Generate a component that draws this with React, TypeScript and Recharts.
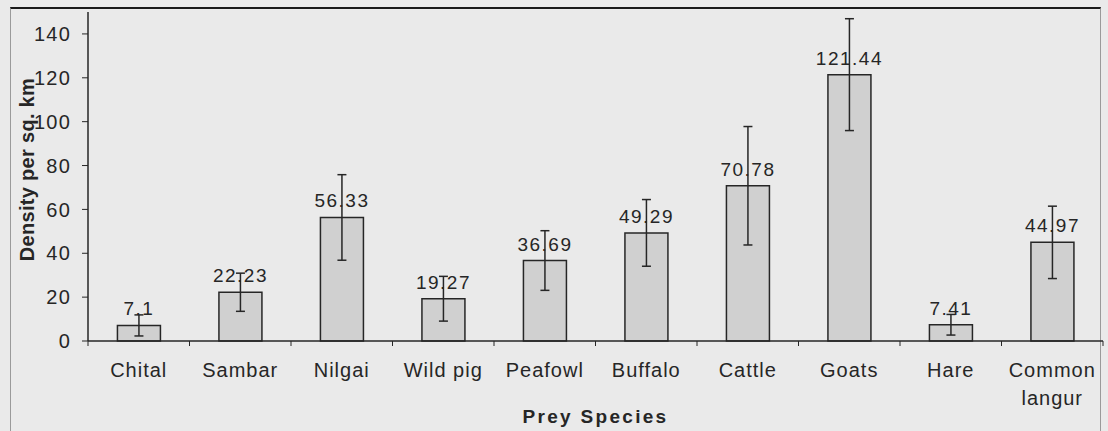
import React from 'react';
import { BarChart, Bar, XAxis, YAxis, ErrorBar, LabelList } from 'recharts';

const CATEGORIES = ['Chital', 'Sambar', 'Nilgai', 'Wild pig', 'Peafowl', 'Buffalo', 'Cattle', 'Goats', 'Hare', 'Common langur'];
const DENSITY = [7.1, 22.23, 56.33, 19.27, 36.69, 49.29, 70.78, 121.44, 7.41, 44.97];
const ERRORS = [4.8, 8.7, 19.5, 10.2, 13.6, 15.2, 27.0, 25.5, 4.7, 16.5];
const Y_TICKS = [0, 20, 40, 60, 80, 100, 120, 140];

const FONT = '"Liberation Sans", Arial, sans-serif';
const INK = '#262626';

const chartData = CATEGORIES.map((name, i) => ({
  name,
  value: DENSITY[i],
  err: ERRORS[i],
}));

const CategoryTick = (props: any) => {
  const { x, y, payload, index, width } = props;
  const half = payload.offset ?? width / CATEGORIES.length / 2;
  const label: string = payload.value;
  const lines = label.length > 10 ? label.split(' ') : [label];
  return (
    <g>
      <line x1={x - half} y1={y} x2={x - half} y2={y + 5} stroke={INK} strokeWidth={1} />
      {index === CATEGORIES.length - 1 && (
        <line x1={x + half} y1={y} x2={x + half} y2={y + 5} stroke={INK} strokeWidth={1} />
      )}
      {lines.map((l, k) => (
        <text
          key={k}
          x={x}
          y={y + 36 + k * 28}
          textAnchor="middle"
          fontSize={20}
          letterSpacing={1}
          fill={INK}
          fontFamily={FONT}
        >
          {l}
        </text>
      ))}
    </g>
  );
};

// rotated axis title, centred a little above the middle of the plot
const YTitle = (props: any) => {
  const { viewBox } = props;
  const cy = viewBox.y + viewBox.height / 2 - 7;
  return (
    <text
      x={34}
      y={cy}
      transform={`rotate(-90, 34, ${cy})`}
      textAnchor="middle"
      fontSize={20}
      fontWeight="bold"
      letterSpacing={0.3}
      fill={INK}
      fontFamily={FONT}
    >
      Density per sq. km
    </text>
  );
};

const App: React.FC = () => {
  return (
    <div style={{ position: 'absolute', left: 0, top: 0, width: 1108, height: 431, background: '#eaeaea' }}>
      <div
        style={{
          position: 'absolute',
          left: 10,
          top: 7,
          width: 1091,
          height: 424,
          borderTop: '2px solid #1a1a1a',
          borderLeft: '1px solid #9a9a9a',
          borderRight: '1px solid #9a9a9a',
          boxSizing: 'border-box',
        }}
      />
      <div style={{ position: 'absolute', left: 0, top: 0 }}>
        <BarChart
          width={1108}
          height={431}
          data={chartData}
          margin={{ top: 12, right: 5, left: 0, bottom: 0 }}
          barCategoryGap="29%"
        >
          <XAxis
            dataKey="name"
            height={90}
            interval={0}
            tickLine={false}
            tickSize={0}
            tickMargin={0}
            axisLine={{ stroke: INK, strokeWidth: 1.5 }}
            tick={<CategoryTick />}
            label={{
              value: 'Prey Species',
              position: 'insideBottom',
              offset: 8,
              fill: INK,
              fontSize: 19,
              fontWeight: 'bold',
              fontFamily: FONT,
              letterSpacing: 2.3,
            }}
          />
          <YAxis
            width={88}
            domain={[0, 150]}
            ticks={Y_TICKS}
            interval={0}
            tickSize={6}
            tickMargin={11}
            axisLine={{ stroke: INK, strokeWidth: 1.5 }}
            tickLine={{ stroke: INK }}
            tick={{ fill: INK, fontSize: 20, fontFamily: FONT, letterSpacing: 1.2 }}
            label={<YTitle />}
          />
          <Bar dataKey="value" fill="#d0d0d0" stroke={INK} strokeWidth={1.5} isAnimationActive={false}>
            <ErrorBar dataKey="err" width={4.5} stroke={INK} strokeWidth={1.5} direction="y" />
            <LabelList
              dataKey="value"
              position="top"
              offset={10}
              fill={INK}
              fontSize={19}
              letterSpacing={1.5}
              fontFamily={FONT}
            />
          </Bar>
        </BarChart>
      </div>
    </div>
  );
};

export default App;
